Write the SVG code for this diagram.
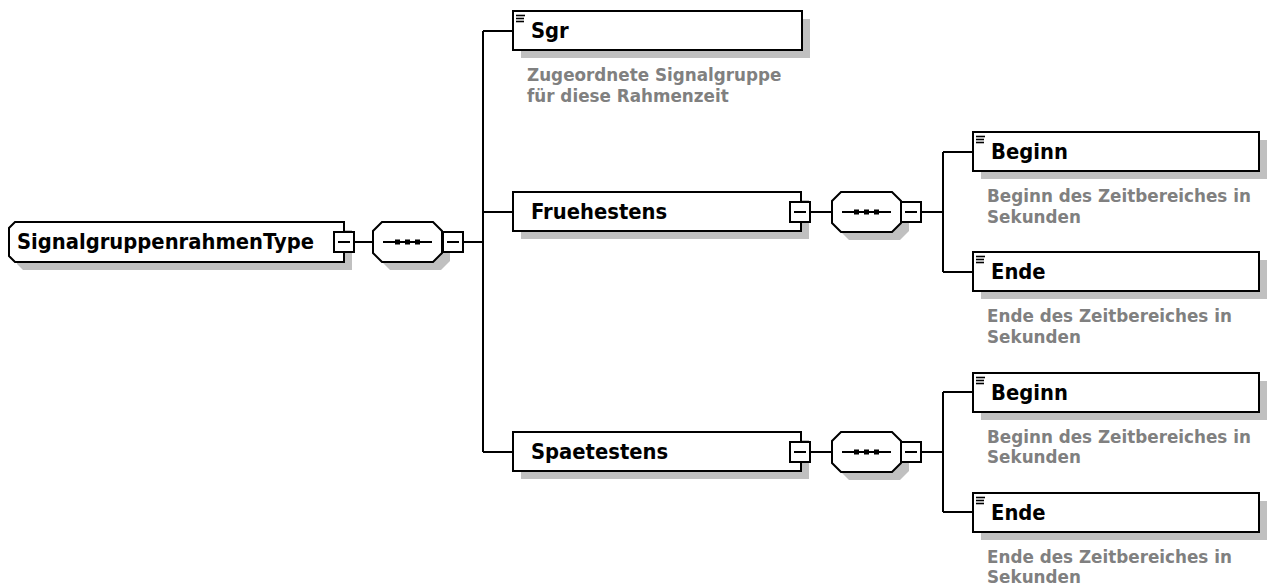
<svg xmlns="http://www.w3.org/2000/svg" xmlns:xlink="http://www.w3.org/1999/xlink" width="1271" height="588" viewBox="0 0 1271 588">
<style>
.bg{fill:#ffffff}
.box{fill:#ffffff;stroke:#000000;stroke-width:2}
.shadow{fill:#c0c0c0;stroke:none}
.conn{fill:none;stroke:#000000;stroke-width:2}
.name{font-family:"DejaVu Sans",Verdana,sans-serif;font-weight:bold;font-size:21px;fill:#000000}
.desc{font-family:"DejaVu Sans",Verdana,sans-serif;font-weight:bold;font-size:18.5px;fill:#808080}
.icon{stroke:#000000;stroke-width:1.6}
</style>
<defs>
<g id="minus">
<rect x="0" y="0" width="20" height="20" class="box"/>
<line x1="4" y1="10" x2="16" y2="10" stroke="#000" stroke-width="2"/>
</g>
<g id="seq">
<path d="M17,8 H68 L77,17 V39 L68,48 H17 L8,39 V17 Z" class="shadow"/>
<path d="M9,0 H60 L69,9 V31 L60,40 H9 L0,31 V9 Z" class="box"/>
<line x1="10" y1="20" x2="59" y2="20" stroke="#000" stroke-width="2"/>
<rect x="22" y="17.5" width="5" height="5" fill="#000"/>
<rect x="32" y="17.5" width="5" height="5" fill="#000"/>
<rect x="42" y="17.5" width="5" height="5" fill="#000"/>
</g>
<g id="ico">
<line x1="3" y1="4.5" x2="12" y2="4.5" class="icon"/>
<line x1="3" y1="7.5" x2="11" y2="7.5" class="icon"/>
<line x1="3" y1="10.5" x2="11" y2="10.5" class="icon"/>
</g>
</defs>
<rect width="1271" height="588" class="bg"/>

<g id="connectors">
<line x1="354" y1="242" x2="373" y2="242" class="conn"/>
<line x1="463" y1="242" x2="483" y2="242" class="conn"/>
<line x1="483" y1="31" x2="483" y2="452" class="conn"/>
<line x1="483" y1="31" x2="513" y2="31" class="conn"/>
<line x1="483" y1="212" x2="513" y2="212" class="conn"/>
<line x1="483" y1="452" x2="513" y2="452" class="conn"/>
<line x1="811" y1="212" x2="832" y2="212" class="conn"/>
<line x1="921" y1="212" x2="943" y2="212" class="conn"/>
<line x1="943" y1="152" x2="943" y2="272" class="conn"/>
<line x1="943" y1="152" x2="973" y2="152" class="conn"/>
<line x1="943" y1="272" x2="973" y2="272" class="conn"/>
<line x1="811" y1="452" x2="832" y2="452" class="conn"/>
<line x1="921" y1="452" x2="943" y2="452" class="conn"/>
<line x1="943" y1="392" x2="943" y2="512" class="conn"/>
<line x1="943" y1="392" x2="973" y2="392" class="conn"/>
<line x1="943" y1="512" x2="973" y2="512" class="conn"/>
</g>

<g id="root">
<path d="M23,230 H352 V270 H23 L17,264 V236 Z" class="shadow"/>
<path d="M15,222 H344 V262 H15 L9,256 V228 Z" class="box"/>
<text class="name" transform="translate(17,249) scale(0.933,1)">SignalgruppenrahmenType</text>
<use xlink:href="#minus" x="334" y="232"/>
</g>

<g id="seq1">
<use xlink:href="#seq" x="373" y="222"/>
<use xlink:href="#minus" x="443" y="232"/>
</g>

<g id="sgr">
<rect x="521" y="19" width="289" height="39" class="shadow"/>
<rect x="513" y="11" width="289" height="39" class="box"/>
<use xlink:href="#ico" x="513" y="11"/>
<text class="name" transform="translate(531,38) scale(0.933,1)">Sgr</text>
<text class="desc" transform="translate(527,81) scale(0.908,1)">Zugeordnete Signalgruppe</text>
<text class="desc" transform="translate(527,102) scale(0.908,1)">für diese Rahmenzeit</text>
</g>

<g id="fruehestens">
<rect x="521" y="200" width="288" height="39" class="shadow"/>
<rect x="513" y="192" width="288" height="39" class="box"/>
<text class="name" transform="translate(531,219) scale(0.933,1)">Fruehestens</text>
<use xlink:href="#minus" x="790" y="202"/>
</g>

<g id="seq2">
<use xlink:href="#seq" x="832" y="192"/>
<use xlink:href="#minus" x="901" y="202"/>
</g>

<g id="beginn1">
<rect x="981" y="140" width="286" height="39" class="shadow"/>
<rect x="973" y="132" width="286" height="39" class="box"/>
<use xlink:href="#ico" x="973" y="132"/>
<text class="name" transform="translate(991,159) scale(0.933,1)">Beginn</text>
<text class="desc" transform="translate(987,202) scale(0.908,1)">Beginn des Zeitbereiches in</text>
<text class="desc" transform="translate(987,223) scale(0.908,1)">Sekunden</text>
</g>

<g id="ende1">
<rect x="981" y="260" width="286" height="39" class="shadow"/>
<rect x="973" y="252" width="286" height="39" class="box"/>
<use xlink:href="#ico" x="973" y="252"/>
<text class="name" transform="translate(991,279) scale(0.933,1)">Ende</text>
<text class="desc" transform="translate(987,322) scale(0.908,1)">Ende des Zeitbereiches in</text>
<text class="desc" transform="translate(987,343) scale(0.908,1)">Sekunden</text>
</g>

<g id="spaetestens">
<rect x="521" y="440" width="288" height="39" class="shadow"/>
<rect x="513" y="432" width="288" height="39" class="box"/>
<text class="name" transform="translate(531,459) scale(0.933,1)">Spaetestens</text>
<use xlink:href="#minus" x="790" y="442"/>
</g>

<g id="seq3">
<use xlink:href="#seq" x="832" y="432"/>
<use xlink:href="#minus" x="901" y="442"/>
</g>

<g id="beginn2">
<rect x="981" y="381" width="286" height="39" class="shadow"/>
<rect x="973" y="373" width="286" height="39" class="box"/>
<use xlink:href="#ico" x="973" y="373"/>
<text class="name" transform="translate(991,400) scale(0.933,1)">Beginn</text>
<text class="desc" transform="translate(987,443) scale(0.908,1)">Beginn des Zeitbereiches in</text>
<text class="desc" transform="translate(987,463) scale(0.908,1)">Sekunden</text>
</g>

<g id="ende2">
<rect x="981" y="501" width="286" height="39" class="shadow"/>
<rect x="973" y="493" width="286" height="39" class="box"/>
<use xlink:href="#ico" x="973" y="493"/>
<text class="name" transform="translate(991,520) scale(0.933,1)">Ende</text>
<text class="desc" transform="translate(987,563) scale(0.908,1)">Ende des Zeitbereiches in</text>
<text class="desc" transform="translate(987,583) scale(0.908,1)">Sekunden</text>
</g>
</svg>
